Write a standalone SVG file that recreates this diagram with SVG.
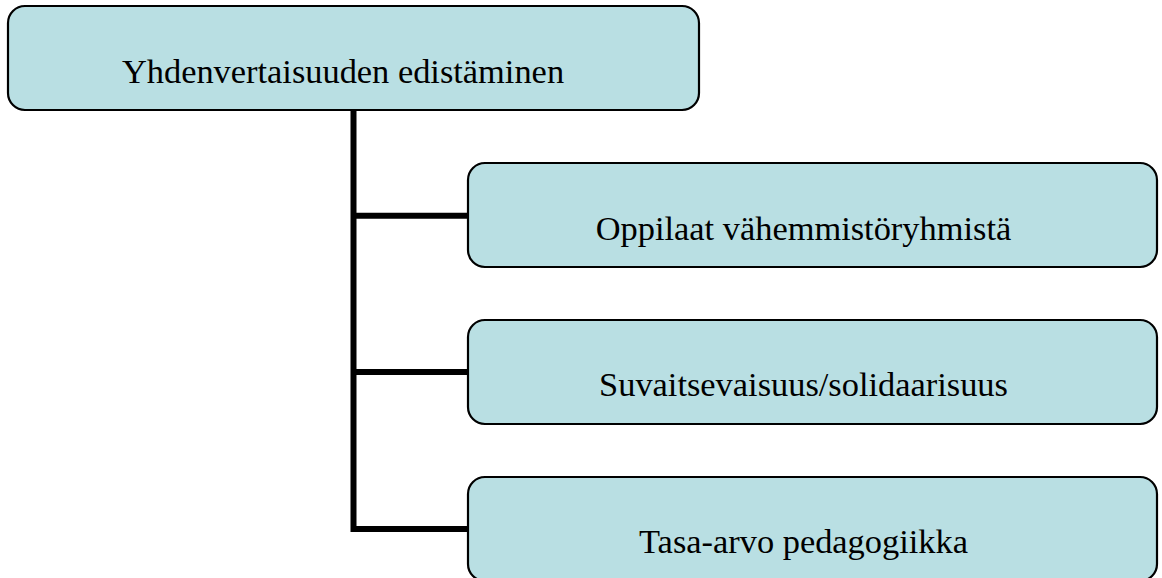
<svg xmlns="http://www.w3.org/2000/svg" width="1162" height="578" viewBox="0 0 1162 578">
  <style>
    .box { fill: #B9DFE3; stroke: #000000; stroke-width: 2.2; }
    .label { font-family: "Liberation Serif", "Times New Roman", serif; font-size: 34.4px; fill: #000000; }
    .conn { fill: none; stroke: #000000; stroke-width: 6; stroke-linejoin: miter; stroke-linecap: butt; }
  </style>
  <rect x="0" y="0" width="1162" height="578" fill="#ffffff"/>

  <!-- tree connectors -->
  <g id="connectors">
    <path class="conn" d="M353.5 110 V529 H468"/>
    <path class="conn" d="M353.5 215.7 H468"/>
    <path class="conn" d="M353.5 372 H468"/>
  </g>

  <g id="node-root">
    <rect class="box" x="8" y="6" width="691" height="104" rx="17" ry="17"/>
    <text class="label" x="343" y="82.5" text-anchor="middle">Yhdenvertaisuuden edistäminen</text>
  </g>

  <g id="node-vahemmistot">
    <rect class="box" x="468" y="163" width="689" height="104" rx="17" ry="17"/>
    <text class="label" x="803.5" y="240" text-anchor="middle">Oppilaat vähemmistöryhmistä</text>
  </g>

  <g id="node-suvaitsevaisuus">
    <rect class="box" x="468" y="320" width="689" height="104" rx="17" ry="17"/>
    <text class="label" x="803.5" y="395.5" text-anchor="middle">Suvaitsevaisuus/solidaarisuus</text>
  </g>

  <g id="node-tasa-arvo">
    <rect class="box" x="468" y="477" width="689" height="104" rx="17" ry="17"/>
    <text class="label" x="803.5" y="553" text-anchor="middle">Tasa-arvo pedagogiikka</text>
  </g>
</svg>
